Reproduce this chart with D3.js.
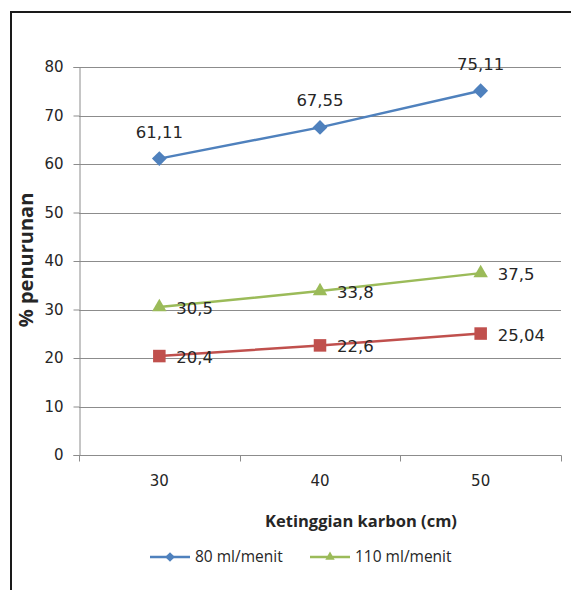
<!DOCTYPE html>
<html>
<head>
<meta charset="utf-8">
<script src="https://cdn.jsdelivr.net/npm/d3@7"></script>
<style>
  html, body { margin: 0; padding: 0; background: #fff; }
  svg { display: block; font-family: "DejaVu Sans", sans-serif; }
</style>
</head>
<body>
<script>
// Chart data
const categories = ["30", "40", "50"];
const series80 = [61.11, 67.55, 75.11];
const series110 = [30.5, 33.8, 37.5];
const series140 = [20.4, 22.6, 25.04];
const seriesNames = ["80 ml/menit", "110 ml/menit", "140 ml/menit"];
const yTicks = [0, 10, 20, 30, 40, 50, 60, 70, 80];

const W = 571, H = 590;
const plot = { left: 79, right: 561, top: 67, bottom: 455 };
const textColor = "#262626";
const gridColor = "#8c8c8c";

const svg = d3.select("body").append("svg")
  .attr("width", W).attr("height", H);

svg.append("rect").attr("width", W).attr("height", H).attr("fill", "#fff");

// Frame around the chart area
svg.append("rect")
  .attr("x", 11).attr("y", 12)
  .attr("width", W + 20).attr("height", H + 20)
  .attr("fill", "none").attr("stroke", "#1a1a1a").attr("stroke-width", 2);

const x = d3.scaleBand().domain(categories).range([plot.left, plot.right]);
const y = d3.scaleLinear().domain([0, 80]).range([plot.bottom, plot.top]);
const cx = c => x(c) + x.bandwidth() / 2;

// Horizontal gridlines
svg.append("g").selectAll("line").data(yTicks.filter(t => t > 0)).join("line")
  .attr("x1", plot.left).attr("x2", plot.right)
  .attr("y1", d => Math.round(y(d)) + 0.5).attr("y2", d => Math.round(y(d)) + 0.5)
  .attr("stroke", gridColor).attr("stroke-width", 1);

// Y axis
const yAxis = svg.append("g")
  .attr("transform", `translate(${plot.left + 0.5},0)`)
  .call(d3.axisLeft(y).tickValues(yTicks).tickSize(6).tickPadding(10));
yAxis.select(".domain").attr("stroke", gridColor);
yAxis.selectAll(".tick line").attr("stroke", gridColor);
yAxis.selectAll(".tick text").attr("font-size", 15).attr("fill", textColor)
  .attr("font-family", "DejaVu Sans, sans-serif");

// X axis with tick marks at category boundaries
const xAxisG = svg.append("g").attr("transform", `translate(0,${plot.bottom + 0.5})`);
xAxisG.append("line").attr("x1", plot.left).attr("x2", plot.right + 0.5)
  .attr("stroke", gridColor);
const bounds = categories.map(c => x(c)).concat([plot.right]);
xAxisG.selectAll("line.tk").data(bounds).join("line").attr("class", "tk")
  .attr("x1", d => Math.round(d) + 0.5).attr("x2", d => Math.round(d) + 0.5)
  .attr("y1", 0).attr("y2", 6).attr("stroke", gridColor);
xAxisG.selectAll("text").data(categories).join("text")
  .attr("x", cx).attr("y", 30).attr("text-anchor", "middle")
  .attr("font-size", 15).attr("fill", textColor).text(d => d);

// Axis titles
svg.append("text")
  .attr("x", 361).attr("y", 527).attr("text-anchor", "middle")
  .attr("font-family", "'Open Sans', sans-serif")
  .attr("font-size", 16.5).attr("font-weight", "bold").attr("fill", textColor)
  .text("Ketinggian karbon (cm)");
svg.append("text")
  .attr("transform", "translate(33,260) rotate(-90)")
  .attr("text-anchor", "middle")
  .attr("font-family", "'Open Sans', sans-serif")
  .attr("font-size", 20).attr("font-weight", "bold").attr("fill", textColor)
  .text("% penurunan");

const line = d3.line().x((d, i) => cx(categories[i])).y(d => y(d));

const symbols = {
  diamond: d3.symbol().type(d3.symbolDiamond2).size(140),
  triangle: d3.symbol().type(d3.symbolTriangle2).size(150),
  square: d3.symbol().type(d3.symbolSquare2).size(200)
};

const seriesDefs = [
  { values: series140, color: "#C0504D", sym: symbols.square, label: "right" },
  { values: series110, color: "#9BBB59", sym: symbols.triangle, label: "right" },
  { values: series80, color: "#4F81BD", sym: symbols.diamond, label: "above" }
];

const fmt = v => String(v).replace(".", ",");

seriesDefs.forEach(s => {
  svg.append("path").datum(s.values)
    .attr("d", line).attr("fill", "none")
    .attr("stroke", s.color).attr("stroke-width", 2.5);
  svg.append("g").selectAll("path").data(s.values).join("path")
    .attr("transform", (d, i) => `translate(${cx(categories[i])},${y(d)})`)
    .attr("d", s.sym()).attr("fill", s.color);
  svg.append("g").selectAll("text").data(s.values).join("text")
    .attr("x", (d, i) => cx(categories[i]) + (s.label === "right" ? 17 : 0))
    .attr("y", d => y(d) + (s.label === "right" ? 7 : -21))
    .attr("text-anchor", s.label === "right" ? "start" : "middle")
    .attr("font-size", 16.5).attr("fill", textColor)
    .text(fmt);
});

// Legend
const legendItems = [
  { name: seriesNames[0], color: "#4F81BD", sym: symbols.diamond, x: 150 },
  { name: seriesNames[1], color: "#9BBB59", sym: symbols.triangle, x: 310 }
];
const lg = svg.append("g").attr("transform", "translate(0,557)");
legendItems.forEach(it => {
  lg.append("line").attr("x1", it.x).attr("x2", it.x + 40)
    .attr("stroke", it.color).attr("stroke-width", 2.5);
  lg.append("path").attr("transform", `translate(${it.x + 20},0) scale(0.65)`)
    .attr("d", it.sym()).attr("fill", it.color);
  lg.append("text").attr("x", it.x + 45).attr("y", 5)
    .attr("font-family", "'Open Sans', sans-serif")
    .attr("font-size", 15.5).attr("fill", textColor).text(it.name);
});
</script>
</body>
</html>
